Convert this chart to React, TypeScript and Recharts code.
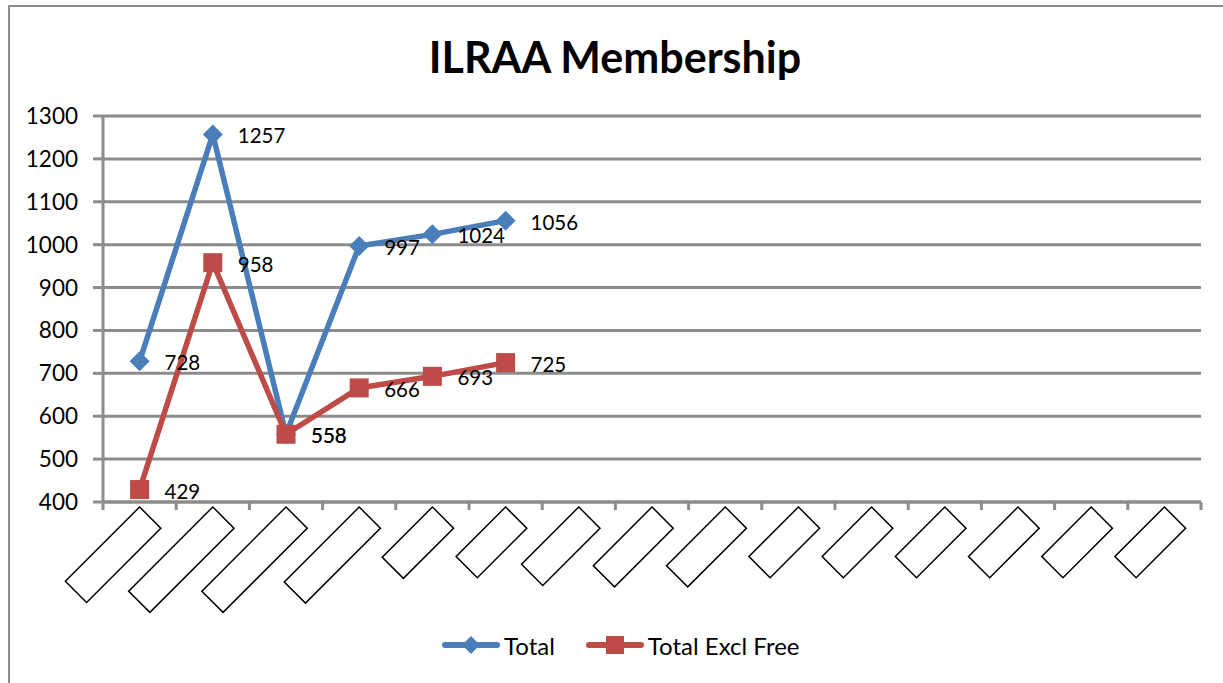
import React from 'react';
import { LineChart, Line, XAxis, YAxis, CartesianGrid, Legend, LabelList } from 'recharts';

// ---- data ----
const categories = [
  'Period 1', 'Period 2', 'Period 3', 'Period 4', 'Period 5',
  'Period 6', 'Period 7', 'Period 8', 'Period 9', 'Period 10',
  'Period 11', 'Period 12', 'Period 13', 'Period 14', 'Period 15',
];
const totalValues: (number | null)[] = [728, 1257, 558, 997, 1024, 1056, null, null, null, null, null, null, null, null, null];
const exclFreeValues: (number | null)[] = [429, 958, 558, 666, 693, 725, null, null, null, null, null, null, null, null, null];
const yTicks = [400, 500, 600, 700, 800, 900, 1000, 1100, 1200, 1300];
const seriesNames = { total: 'Total', exclFree: 'Total Excl Free' };
const titleText = 'ILRAA Membership';

// ---- styles ----
const FONT = 'Lato, "Open Sans", "Liberation Sans", sans-serif';
const BLUE = '#4a7ebb';
const RED = '#be4b48';
const GRID = '#8c8c8c';
const HALF_BAND = 36.6;
// lengths of the (unrenderable) category label boxes, px
const TICK_BOX_LENGTHS = [105, 119, 119, 106, 71, 70, 81, 83, 83, 70, 70, 70, 70, 70, 70];

const data = categories.map((c, i) => ({
  category: c,
  total: totalValues[i],
  exclFree: exclFreeValues[i],
}));

const BoxTick = (props: any) => {
  const { x, y, index } = props;
  const half = HALF_BAND;
  const L = TICK_BOX_LENGTHS[index] ?? 70;
  return (
    <g>
      <line x1={x - half} x2={x - half} y1={y} y2={y + 8} stroke={GRID} strokeWidth={3} />
      {index === categories.length - 1 && (
        <line x1={x + half} x2={x + half} y1={y} y2={y + 8} stroke={GRID} strokeWidth={3} />
      )}
      <g transform={`translate(${x},${y + 5})`}>
        <rect x={-L} y={0} width={L} height={30} transform="rotate(-45)" fill="none" stroke="#000" strokeWidth={1.5} />
      </g>
    </g>
  );
};

const DiamondDot = (props: any) => {
  const { cx, cy } = props;
  if (cx == null || cy == null || props.value == null) return <g />;
  const r = 10;
  return <path d={`M${cx},${cy - r}L${cx + r},${cy}L${cx},${cy + r}L${cx - r},${cy}Z`} fill={BLUE} stroke="none" />;
};

const SquareDot = (props: any) => {
  const { cx, cy } = props;
  if (cx == null || cy == null || props.value == null) return <g />;
  const s = 19;
  return <rect x={cx - s / 2} y={cy - s / 2} width={s} height={s} fill={RED} stroke="none" />;
};

const renderLabel = (props: any) => {
  const { x, y, value } = props;
  if (value == null || x == null || y == null) return null;
  return (
    <text x={x + 25} y={y + 1} dominantBaseline="central" fontSize={20.5} fontFamily={FONT} fill="#000">
      {value}
    </text>
  );
};

const LegendContent = () => {
  const item = (color: string, marker: 'diamond' | 'square', label: string) => (
    <div style={{ display: 'flex', alignItems: 'center', marginRight: 30 }}>
      <svg width={60} height={24} style={{ display: 'block' }}>
        <line x1={4} x2={56} y1={12} y2={12} stroke={color} strokeWidth={6} strokeLinecap="round" />
        {marker === 'diamond' ? (
          <path d="M30,3L39,12L30,21L21,12Z" fill={color} />
        ) : (
          <rect x={21} y={3} width={18} height={18} fill={color} />
        )}
      </svg>
      <span style={{ fontFamily: FONT, fontSize: 24, color: '#000', marginLeft: 3 }}>{label}</span>
    </div>
  );
  return (
    <div style={{ display: 'flex', alignItems: 'center', height: 40, paddingLeft: 441 }}>
      {item(BLUE, 'diamond', seriesNames.total)}
      {item(RED, 'square', seriesNames.exclFree)}
    </div>
  );
};

export default function App() {
  return (
    <div style={{ position: 'absolute', left: 0, top: 0, width: 1223, height: 683, overflow: 'hidden', background: '#fff' }}>
      <div style={{ position: 'absolute', left: 8, top: 5, width: 1300, height: 800, border: `2px solid ${GRID}`, boxSizing: 'border-box' }} />
      <svg width={1223} height={100} style={{ position: 'absolute', left: 0, top: 0 }}>
        <text x={615} y={73} textAnchor="middle" fontFamily={FONT} fontWeight={700} fontSize={43} fill="#000">
          {titleText}
        </text>
      </svg>
      <div style={{ position: 'absolute', left: 0, top: 0 }}>
        <LineChart width={1223} height={683} data={data} margin={{ top: 116, right: 22, bottom: 18, left: 43 }}>
          <CartesianGrid horizontal vertical={false} stroke={GRID} strokeWidth={3} />
          <XAxis
            dataKey="category"
            height={123}
            interval={0}
            padding={{ left: HALF_BAND, right: HALF_BAND }}
            tickSize={0}
            tickMargin={0}
            tickLine={false}
            axisLine={{ stroke: GRID, strokeWidth: 3 }}
            tick={<BoxTick />}
          />
          <YAxis
            width={60}
            domain={[400, 1300]}
            ticks={yTicks}
            interval={0}
            tickSize={10}
            tickMargin={15}
            tickLine={{ stroke: GRID, strokeWidth: 3 }}
            axisLine={{ stroke: GRID, strokeWidth: 3 }}
            tick={{ fill: '#000', fontSize: 22.5, fontFamily: FONT }}
          />
          <Legend verticalAlign="bottom" height={40} content={<LegendContent />} wrapperStyle={{ left: 0, width: 1223, height: 40 }} />
          <Line
            type="linear"
            dataKey="total"
            name={seriesNames.total}
            stroke={BLUE}
            strokeWidth={5.5}
            dot={DiamondDot}
            activeDot={false}
            isAnimationActive={false}
          >
            <LabelList dataKey="total" content={renderLabel} />
          </Line>
          <Line
            type="linear"
            dataKey="exclFree"
            name={seriesNames.exclFree}
            stroke={RED}
            strokeWidth={5.5}
            dot={SquareDot}
            activeDot={false}
            isAnimationActive={false}
          >
            <LabelList dataKey="exclFree" content={renderLabel} />
          </Line>
        </LineChart>
      </div>
    </div>
  );
}
